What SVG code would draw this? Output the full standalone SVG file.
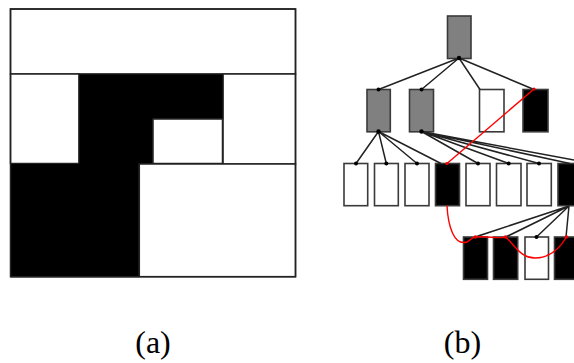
<svg xmlns="http://www.w3.org/2000/svg" width="574" height="363" viewBox="0 0 574 363">
<style>
.cell{fill:#fff;stroke:#222;stroke-width:1.5}
.blk{fill:#000;stroke:#222;stroke-width:1}
.n{stroke:#3a3a3a;stroke-width:1.6}
.g{fill:#808080}
.w{fill:#fff}
.b{fill:#000}
.e{stroke:#222;stroke-width:1.5;fill:none}
.r{stroke:#f00;stroke-width:1.4;fill:none}
.d{fill:#000}
.rd{fill:#e00}
.lab{font-family:"Liberation Serif","Times New Roman",serif;font-size:32px;fill:#000;text-anchor:middle}
</style>
<!-- (a) partition -->
<g id="partition">
<rect class="cell" x="10.5" y="9" width="285" height="65"/>
<rect class="cell" x="10.5" y="74" width="68.5" height="89.5"/>
<rect class="cell" x="223" y="74" width="72.5" height="90"/>
<polygon class="blk" points="79,74 223,74 223,119 153,119 153,164 139,164 139,277 10.5,277 10.5,163.5 79,163.5"/>
<rect class="cell" x="153" y="119" width="69.5" height="44.5"/>
<rect class="cell" x="139.3" y="164" width="156.2" height="112.7"/>
<rect x="10.5" y="9" width="285" height="267.7" fill="none" stroke="#222" stroke-width="1.5"/>
</g>
<!-- nodes -->
<g id="root"><rect class="n g" x="447.5" y="16" width="23.5" height="42.5"/></g>
<g id="l2-1"><rect class="n g" x="367" y="89.5" width="23.3" height="42.3"/></g>
<g id="l2-2"><rect class="n g" x="409.5" y="89.5" width="24" height="42.3"/></g>
<g id="l2-3"><rect class="n w" x="479.5" y="89.5" width="24.5" height="42.3"/></g>
<g id="l2-4"><rect class="n b" x="523" y="89.5" width="25" height="42.3"/></g>
<g id="l3-1"><rect class="n w" x="344" y="163.5" width="23.7" height="42.2"/></g>
<g id="l3-2"><rect class="n w" x="374.5" y="163.5" width="23.8" height="42.2"/></g>
<g id="l3-3"><rect class="n w" x="405" y="163.5" width="24" height="42.2"/></g>
<g id="l3-4"><rect class="n b" x="435.5" y="163.5" width="24" height="42.2"/></g>
<g id="l3-5"><rect class="n w" x="466" y="163.5" width="24" height="42.2"/></g>
<g id="l3-6"><rect class="n w" x="496.5" y="163.5" width="24.5" height="42.2"/></g>
<g id="l3-7"><rect class="n w" x="527" y="163.5" width="24.3" height="42.2"/></g>
<g id="l3-8"><rect class="n b" x="558" y="163.5" width="24" height="42.2"/></g>
<g id="l4-1"><rect class="n b" x="463.5" y="237" width="24" height="42.3"/></g>
<g id="l4-2"><rect class="n b" x="493.5" y="237" width="24.2" height="42.3"/></g>
<g id="l4-3"><rect class="n w" x="525" y="237" width="23.5" height="42.3"/></g>
<g id="l4-4"><rect class="n b" x="554.5" y="237" width="24" height="42.3"/></g>
<!-- (b) tree connectors -->
<g id="connectors">
<path class="e" d="M459,58 L378.5,89.5 M459,58 L421.5,89.5 M459,58 L480,89.5 M459,58 L534,89.5"/>
<path class="e" d="M378.5,131.5 L356,163.5 M378.5,131.5 L386.3,163.5 M378.5,131.5 L417,163.5 M378.5,131.5 L441,163.5"/>
<path class="e" d="M421.5,131.5 L478,163.5 M421.5,131.5 L508.7,163.5 M421.5,131.5 L539,163.5 M421.5,131.5 L570,163.5 M421.5,131.5 L574,160"/>
<path class="e" d="M569,206 L475.5,237 M569,206 L505.5,237 M569,206 L536.5,237 M569,206 L566,237 M569,206 L478,236 M569,206 L508,236"/>
<path class="r" d="M534,89 L447,163.5"/>
<path class="r" d="M447,205.5 C448,226 454,246 467,242 C471,240 472,237 475.5,237 C490,236 496,239 505.5,237 C514,244 520,258 535,258 C550,258 560,248 566.5,237"/>
<g class="d">
<circle cx="459" cy="58" r="2.2"/>
<circle cx="378.5" cy="89.5" r="2"/><circle cx="421.5" cy="89.5" r="2"/>
<circle cx="378.5" cy="131.5" r="2.2"/><circle cx="421.5" cy="131.5" r="2.2"/>
<circle cx="356" cy="163.5" r="2"/><circle cx="386.3" cy="163.5" r="2"/><circle cx="417" cy="163.5" r="2"/>
<circle cx="478" cy="163.5" r="2"/><circle cx="508.7" cy="163.5" r="2"/><circle cx="539" cy="163.5" r="2"/>
<circle cx="536.5" cy="237" r="2"/>
</g>
<g class="rd">
<circle cx="534" cy="89" r="1.6"/><circle cx="447" cy="163.5" r="1.6"/>
<circle cx="475.5" cy="237" r="1.8"/><circle cx="505.5" cy="237" r="1.8"/><circle cx="566.5" cy="237" r="1.8"/>
</g>
</g>
<!-- labels -->
<text class="lab" x="153" y="353">(a)</text>
<text class="lab" x="462.5" y="353">(b)</text>
</svg>
